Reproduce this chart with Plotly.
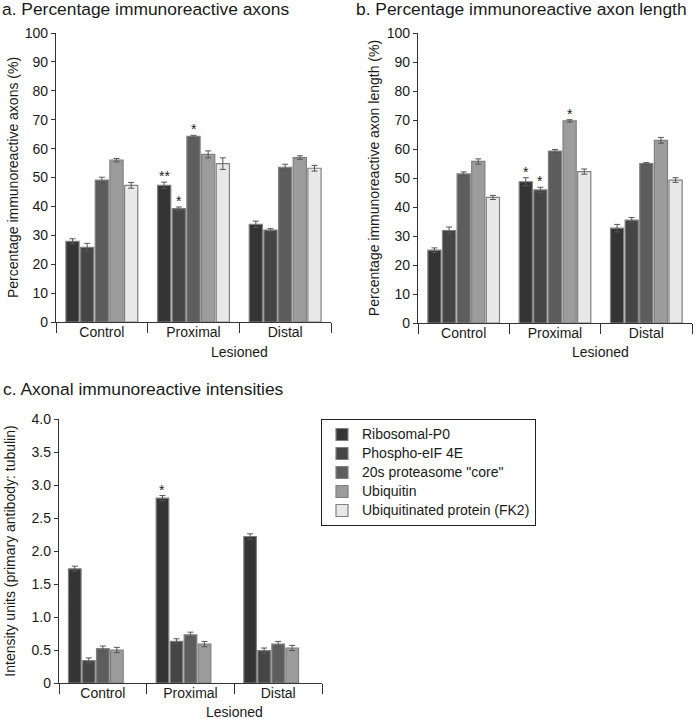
import plotly.graph_objects as go

W, H = 698, 719

groups = ["Control", "Proximal", "Distal"]
series = ["Ribosomal-P0", "Phospho-eIF 4E", '20s proteasome "core"', "Ubiquitin",
          "Ubiquitinated protein (FK2)"]
colors = ["#343434", "#454545", "#5d5d5d", "#9c9c9c", "#e8e8e8"]

# Panel a: percentage immunoreactive axons
a_vals = [[27.9, 47.3, 33.8], [25.8, 39.2, 31.8], [49.1, 64.2, 53.5], [56.0, 58.0, 56.9], [47.3, 54.8, 53.2]]
a_err = [[0.9, 1.1, 1.1], [1.4, 0.6, 0.5], [1.0, 0.4, 1.1], [0.6, 1.2, 0.6], [1.0, 2.0, 1.0]]
a_stars = [(0, 1, "**"), (1, 1, "*"), (2, 1, "*")]

# Panel b: percentage immunoreactive axon length
b_vals = [[25.1, 48.7, 32.7], [31.9, 45.9, 35.5], [51.4, 59.3, 55.0], [55.7, 69.7, 63.0], [43.3, 52.2, 49.3]]
b_err = [[0.8, 1.4, 1.3], [1.2, 0.9, 0.9], [0.7, 0.5, 0.3], [0.9, 0.4, 1.0], [0.7, 0.9, 0.8]]
b_stars = [(0, 1, "*"), (1, 1, "*"), (3, 1, "*")]

# Panel c: axonal immunoreactive intensities (no FK2 data)
c_vals = [[1.73, 2.80, 2.22], [0.34, 0.63, 0.49], [0.52, 0.73, 0.59], [0.50, 0.59, 0.53], [None, None, None]]
c_err = [[0.04, 0.04, 0.04], [0.04, 0.04, 0.04], [0.04, 0.04, 0.04], [0.04, 0.04, 0.04], [None, None, None]]
c_stars = [(0, 1, "*")]

FONT = "Liberation Sans, Arial, sans-serif"
TXT = "#1a1a1a"

fig = go.Figure()

panels = [
    ("x", "y", a_vals, a_err, a_stars, False),
    ("x2", "y2", b_vals, b_err, b_stars, False),
    ("x3", "y3", c_vals, c_err, c_stars, True),
]

for xa, ya, vals, errs, stars, show in panels:
    for i, name in enumerate(series):
        fig.add_trace(go.Bar(
            x=groups, y=vals[i], name='<span style="font-size:14px">' + name + "</span>",
            xaxis=xa, yaxis=ya,
            marker=dict(color=colors[i], line=dict(color="#808080", width=1.2)),
            error_y=dict(type="data", array=errs[i], color="#555555", thickness=1, width=3),
            showlegend=show, legendgroup=name,
        ))
    n = len(series)
    slot = 0.8 / n
    for i, g, s in stars:
        xpos = g - 0.4 + slot * (i + 0.5)
        yv = vals[i][g] + errs[i][g]
        fig.add_annotation(x=xpos, y=yv, xref=xa, yref=ya, text=s, showarrow=False,
                           yanchor="bottom", yshift=-4,
                           font=dict(family=FONT, size=14, color=TXT))

def px_x(p):
    return p / W

def px_y(p):
    return 1 - p / H

def xaxis(d0, d1, anchor):
    return dict(domain=[px_x(d0), px_x(d1)], anchor=anchor, type="category",
                range=[-0.5, 2.5], tickson="boundaries", ticks="outside", ticklen=10,
                tickcolor="#333333", tickwidth=1.2, showline=True, linecolor="#333333",
                linewidth=1.4, showgrid=False, zeroline=False, ticklabelstandoff=-3,
                automargin=False,
                tickfont=dict(family=FONT, size=14, color=TXT), fixedrange=True)

def yaxis(top, bottom, anchor, rng, tv, tt, title, standoff):
    return dict(domain=[px_y(bottom), px_y(top)], anchor=anchor, range=rng,
                tickvals=tv, ticktext=tt, ticks="outside", ticklen=4, tickcolor="#333333",
                tickwidth=1.2, showline=True, linecolor="#333333", linewidth=1.4,
                showgrid=False, zeroline=False, automargin=False, fixedrange=True,
                tickfont=dict(family=FONT, size=14, color=TXT),
                title=dict(text=title, font=dict(family=FONT, size=14, color=TXT), standoff=standoff))

pct_ticks = list(range(0, 101, 10))
int_ticks = [0, 0.5, 1.0, 1.5, 2.0, 2.5, 3.0, 3.5, 4.0]
int_text = ["0", "0.5", "1.0", "1.5", "2.0", "2.5", "3.0", "3.5", "4.0"]

fig.update_layout(
    width=W, height=H, autosize=False,
    margin=dict(l=0, r=0, t=0, b=0, autoexpand=False),
    paper_bgcolor="white", plot_bgcolor="white",
    barmode="group", bargap=0.2, bargroupgap=0.1,
    font=dict(family=FONT, size=14, color=TXT),
    xaxis=xaxis(56, 331, "y"),
    yaxis=yaxis(33, 322, "x", [0, 100], pct_ticks, [str(t) for t in pct_ticks],
                "Percentage immunoreactive axons (%)", 2),
    xaxis2=xaxis(418, 692, "y2"),
    yaxis2=yaxis(33, 323, "x2", [0, 100], pct_ticks, [str(t) for t in pct_ticks],
                 "Percentage immunoreactive axon length (%)", 3),
    xaxis3=xaxis(59, 322, "y3"),
    yaxis3=yaxis(419, 683, "x3", [0, 4], int_ticks, int_text,
                  "Intensity units (primary antibody: tubulin)", 12),
    legend=dict(x=px_x(321), y=px_y(419), xanchor="left", yanchor="top",
                bgcolor="white", bordercolor="#222222", borderwidth=1,
                font=dict(family=FONT, size=12, color=TXT), tracegroupgap=0),
)

titles = [
    ("a. Percentage immunoreactive axons", 0, 9),
    ("b. Percentage immunoreactive axon length", 354, 9),
    ("c. Axonal immunoreactive intensities", 1, 389),
]
for t, x0, yc in titles:
    fig.add_annotation(text=t, xref="paper", yref="paper", x=px_x(x0), y=px_y(yc),
                       xanchor="left", yanchor="middle", showarrow=False,
                       font=dict(family=FONT, size=17.4, color=TXT))

for xa, yc in [("x", 352), ("x2", 352), ("x3", 712)]:
    fig.add_annotation(text="Lesioned", xref=xa, yref="paper", x=1.5, y=px_y(yc),
                       xanchor="center", yanchor="middle", showarrow=False,
                       font=dict(family=FONT, size=14, color=TXT))

fig.write_html("out.html", config={"displayModeBar": False},
               post_script="document.body.style.margin='0';document.body.style.padding='0';")
